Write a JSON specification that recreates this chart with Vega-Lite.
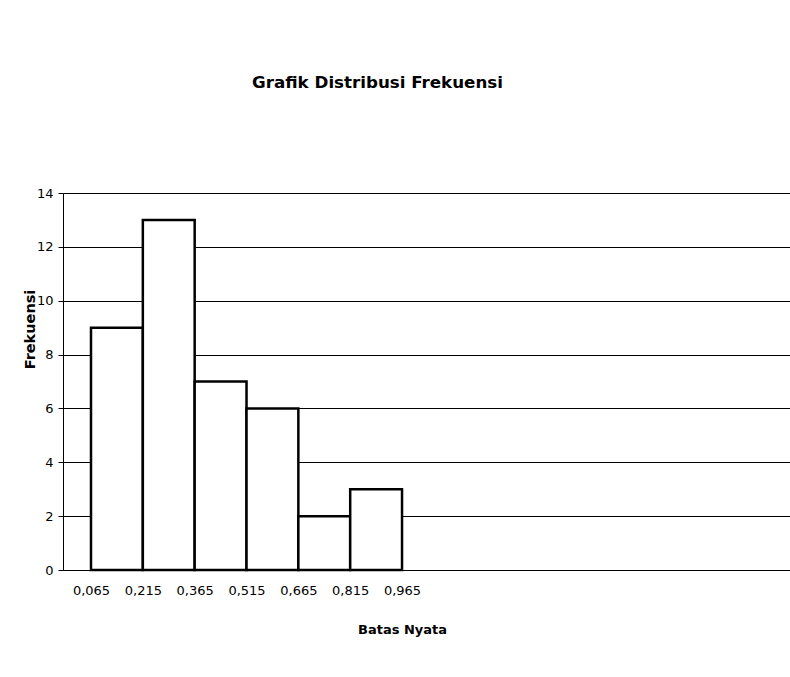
{
  "$schema": "https://vega.github.io/schema/vega-lite/v6.json",
  "autosize": {"type": "none"},
  "padding": {"left": 63, "top": 193, "right": 0, "bottom": 107},
  "width": 727,
  "height": 377,
  "background": "white",
  "config": {
    "font": "DejaVu Sans",
    "view": {"stroke": null}
  },
  "title": {
    "text": "Grafik Distribusi Frekuensi",
    "font": "DejaVu Sans",
    "fontSize": 16.7,
    "fontWeight": "bold",
    "color": "black",
    "anchor": "middle",
    "frame": "group",
    "dx": -49,
    "offset": 78,
    "baseline": "bottom"
  },
  "data": {
    "values": [
      {"batas_bawah": 0.065, "batas_atas": 0.215, "frekuensi": 9},
      {"batas_bawah": 0.215, "batas_atas": 0.365, "frekuensi": 13},
      {"batas_bawah": 0.365, "batas_atas": 0.515, "frekuensi": 7},
      {"batas_bawah": 0.515, "batas_atas": 0.665, "frekuensi": 6},
      {"batas_bawah": 0.665, "batas_atas": 0.815, "frekuensi": 2},
      {"batas_bawah": 0.815, "batas_atas": 0.965, "frekuensi": 3}
    ]
  },
  "mark": {"type": "rect", "fill": "white", "stroke": "black", "strokeWidth": 2.5},
  "encoding": {
    "x": {
      "field": "batas_bawah",
      "type": "quantitative",
      "scale": {"domain": [-0.016, 2.0876], "nice": false, "zero": false},
      "axis": {
        "title": "Batas Nyata",
        "titleFont": "DejaVu Sans",
        "titleFontSize": 13,
        "titleFontWeight": "bold",
        "titleColor": "black",
        "titleX": 339,
        "titleY": 59,
        "titleBaseline": "middle",
        "values": [0.065, 0.215, 0.365, 0.515, 0.665, 0.815, 0.965],
        "labelExpr": "replace(format(datum.value, '.3f'), '.', ',')",
        "labelFont": "DejaVu Sans",
        "labelFontSize": 13,
        "labelColor": "black",
        "labelPadding": 14,
        "ticks": false,
        "grid": false,
        "domainColor": "black",
        "domainWidth": 1
      }
    },
    "x2": {"field": "batas_atas"},
    "y": {
      "field": "frekuensi",
      "type": "quantitative",
      "scale": {"domain": [0, 14], "nice": false},
      "axis": {
        "title": "Frekuensi",
        "titleFont": "DejaVu Sans",
        "titleFontSize": 14.5,
        "titleFontWeight": "bold",
        "titleColor": "black",
        "titleX": -33,
        "titleY": 136,
        "titleBaseline": "middle",
        "values": [0, 2, 4, 6, 8, 10, 12, 14],
        "labelFont": "DejaVu Sans",
        "labelFontSize": 13,
        "labelColor": "black",
        "labelPadding": 5,
        "tickColor": "black",
        "tickSize": 5,
        "grid": true,
        "gridColor": "black",
        "gridWidth": 1,
        "gridOpacity": 1,
        "domainColor": "black",
        "domainWidth": 1
      }
    },
    "y2": {"datum": 0}
  }
}
